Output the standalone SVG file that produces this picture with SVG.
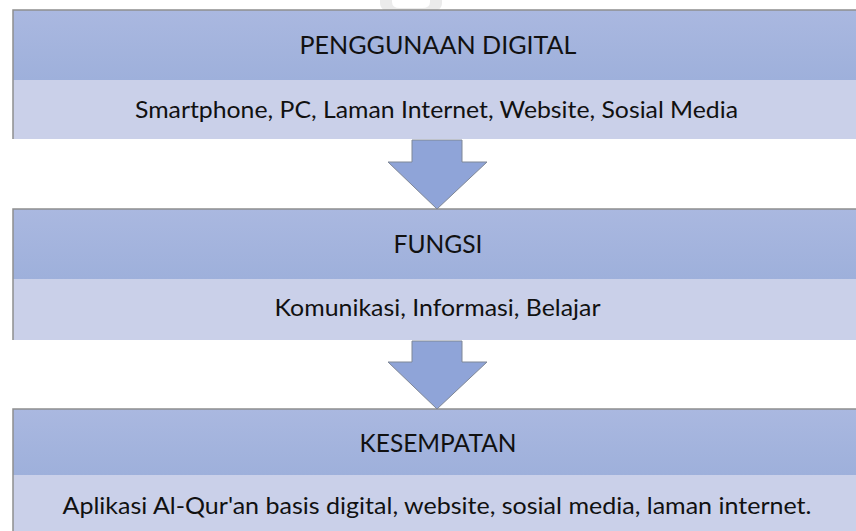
<svg xmlns="http://www.w3.org/2000/svg" width="856" height="531" viewBox="0 0 856 531">
  <defs>
    <linearGradient id="headFill" x1="0" y1="0" x2="0" y2="1">
      <stop offset="0" stop-color="#aab8e0"/>
      <stop offset="1" stop-color="#9eb0db"/>
    </linearGradient>
    <style>
      .head { fill: url(#headFill); }
      .body { fill: #cad0e9; }
      .edge { stroke: #8e8e8e; stroke-width: 1.5; fill: none; }
      .title { font-family: Lato, "Liberation Sans", sans-serif; font-size: 25px; fill: #111; text-anchor: middle; }
      .detail { font-family: Lato, "Liberation Sans", sans-serif; font-size: 23px; fill: #111; text-anchor: middle; }
      .arrow { fill: #8fa4d8; stroke: #7f8796; stroke-width: 1; }
      .mark { fill: #ebebeb; }
    </style>
  </defs>

  <rect width="856" height="531" fill="#ffffff"/>

  <!-- faint background mark at the top edge -->
  <g id="watermark">
    <path class="mark" d="M380 0 h12 v2 q0 6 8 6 h22 q8 0 8 -6 v-2 h12 v3 q0 10 -18 10 h-26 q-18 0 -18 -10 z"/>
  </g>

  <!-- stage 1 -->
  <g id="penggunaan-digital">
    <rect class="head" x="13" y="10" width="843" height="70"/>
    <rect class="body" x="13" y="80" width="843" height="59"/>
    <path class="edge" d="M13 139 V10 H856"/>
    <text class="title" x="438" y="54" textLength="277" lengthAdjust="spacingAndGlyphs">PENGGUNAAN DIGITAL</text>
    <text class="detail" x="436.5" y="118" textLength="603" lengthAdjust="spacingAndGlyphs">Smartphone, PC, Laman Internet, Website, Sosial Media</text>
  </g>

  <!-- stage 2 -->
  <g id="fungsi">
    <rect class="head" x="13" y="209" width="843" height="70"/>
    <rect class="body" x="13" y="279" width="843" height="61"/>
    <path class="edge" d="M13 340 V209 H856"/>
    <text class="title" x="438" y="253" textLength="89" lengthAdjust="spacingAndGlyphs">FUNGSI</text>
    <text class="detail" x="437.5" y="316" textLength="326" lengthAdjust="spacingAndGlyphs">Komunikasi, Informasi, Belajar</text>
  </g>

  <!-- stage 3 -->
  <g id="kesempatan">
    <rect class="head" x="13" y="409" width="843" height="66"/>
    <rect class="body" x="13" y="475" width="843" height="56"/>
    <path class="edge" d="M13 531 V409 H856"/>
    <text class="title" x="438" y="452" textLength="157" lengthAdjust="spacingAndGlyphs">KESEMPATAN</text>
    <text class="detail" x="437" y="514" textLength="749" lengthAdjust="spacingAndGlyphs">Aplikasi Al-Qur'an basis digital, website, sosial media, laman internet.</text>
  </g>

  <!-- block arrows between stages -->
  <g id="connectors">
    <path class="arrow" d="M412 140 H462 V162 H487 L437 209 L388 162 H412 Z"/>
    <path class="arrow" d="M412 341 H462 V362 H487 L437 409 L388 362 H412 Z"/>
  </g>
</svg>
